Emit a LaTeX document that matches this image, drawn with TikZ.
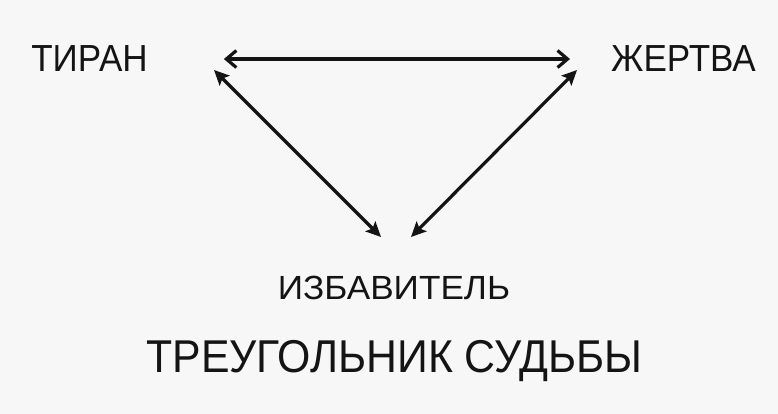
\documentclass[tikz,border=0pt]{standalone}
\usepackage{fontspec}
\newfontfamily\lbl[FakeStretch=0.93]{Liberation Sans}
\newfontfamily\lblbreed[FakeStretch=1.05]{Liberation Sans}
\usetikzlibrary{arrows.meta}
\definecolor{papier}{RGB}{247,247,247}
\definecolor{ink}{RGB}{20,20,20}

\begin{document}
\begin{tikzpicture}[x=1pt, y=-1pt,
    role/.style={inner sep=0pt, anchor=base, text=ink, font=\lbl\fontsize{37.7}{40}\selectfont},
    pijl/.style={line width=3.2pt, draw=ink, {Straight Barb[length=10pt,width=17pt]}-{Straight Barb[length=10pt,width=17pt]}},
    schuin/.style={line width=3.2pt, draw=ink, {Stealth[length=15pt,width=14pt,inset=3pt]}-{Stealth[length=15pt,width=14pt,inset=3pt]}}]
    % background, fixes the size
    \fill[papier] (0,0) rectangle (778,414);
    \useasboundingbox (0,0) rectangle (778,414);

    % the three roles
    \node[role] (tiran) at (89.5,72) {ТИРАН};
    \node[role] (zhertva) at (683.5,72) {ЖЕРТВА};
    \node[role, font=\lblbreed\fontsize{33.5}{36}\selectfont] (izbav) at (394,299) {ИЗБАВИТЕЛЬ};

    % title
    \node[role, font=\lbl\fontsize{46}{50}\selectfont] (titel) at (394.5,372) {ТРЕУГОЛЬНИК СУДЬБЫ};

    % arrow ends
    \coordinate (tiranZ) at (214,70);
    \coordinate (zhertvaZ) at (577,70);
    \coordinate (izbavL) at (381,237);
    \coordinate (izbavR) at (411,237);

    \draw[pijl, shorten <=76pt, shorten >=41pt] (tiran.east) -- (zhertva.west);
    \draw[schuin] (tiranZ) -- (izbavL);
    \draw[schuin] (zhertvaZ) -- (izbavR);
\end{tikzpicture}
\end{document}
